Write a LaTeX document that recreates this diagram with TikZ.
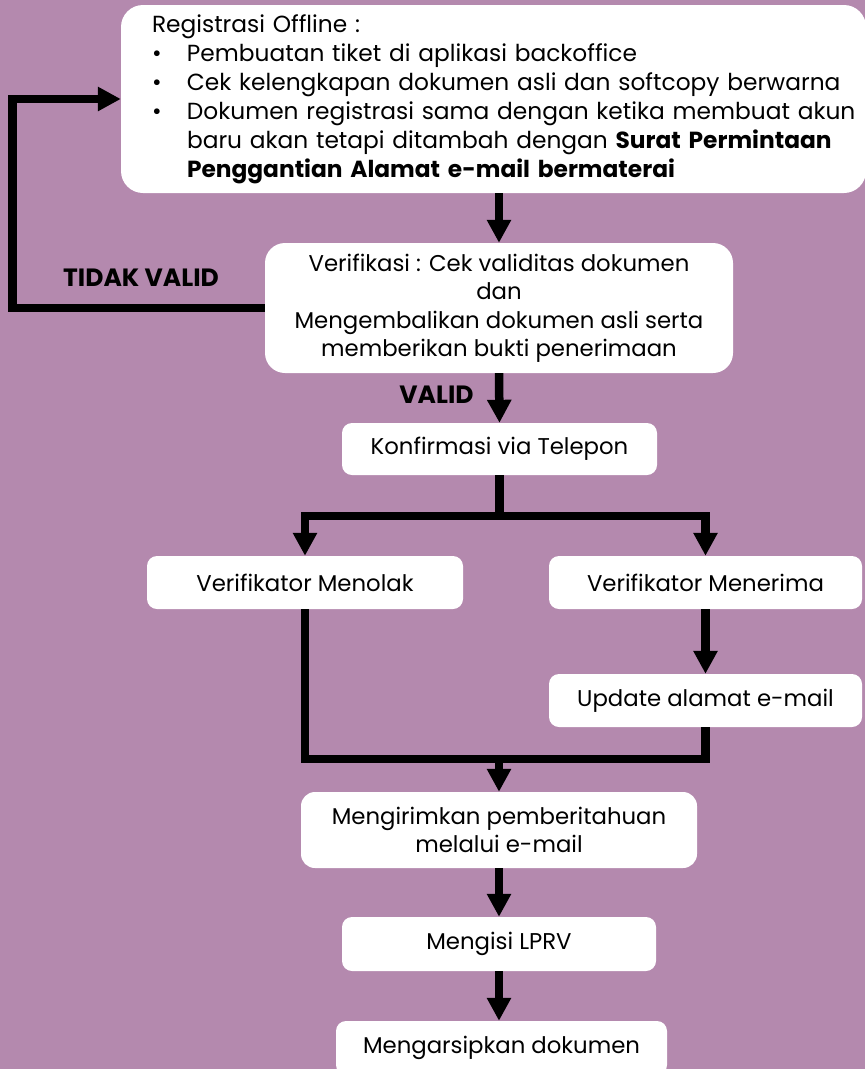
\documentclass[tikz,border=0pt]{standalone}
\usepackage{fontspec}
\setmainfont{Poppins}
\usepackage{xcolor}
\usepackage{tikz}
\usetikzlibrary{arrows.meta}

\definecolor{ungu}{RGB}{180,137,174}
\newcommand{\bul}{\makebox[35pt][l]{\textbullet}}

\begin{document}
\begin{tikzpicture}[x=1pt,y=-1pt,
    kotak/.style={fill=white, rounded corners=10pt, inner sep=0pt, align=center,
        font=\fontsize{22.8}{28.5}\selectfont},
    garis/.style={line width=8.5pt},
    panah/.style={line width=8.5pt, -{Triangle[length=23pt,width=23pt]}},
    label/.style={font=\fontsize{25}{28}\selectfont\bfseries}]
                % 背景
                \fill[ungu] (0,0) rectangle (865,1069);
                \useasboundingbox (0,0) rectangle (865,1069);

                % 方框
                \node[kotak, rounded corners=22pt, minimum width=745pt, minimum height=188pt,
                    text width=683pt, align=left, font=\fontsize{23.3}{29}\selectfont] (reg) at (493.5,99) {%
                    \mbox{Registrasi Offline :}\\
                    \mbox{\bul Pembuatan tiket di aplikasi backoffice}\\
                    \mbox{\bul Cek kelengkapan dokumen asli dan softcopy berwarna}\\
                    \mbox{\bul Dokumen registrasi sama dengan ketika membuat akun}\\
                    \mbox{\hspace*{35pt}baru akan tetapi ditambah dengan \textbf{Surat Permintaan}}\\
                    \mbox{\hspace*{35pt}\textbf{Penggantian Alamat e-mail bermaterai}}};
                \node[kotak, rounded corners=20pt, minimum width=468pt, minimum height=130pt] (verif) at (499,308)
                    {Verifikasi : Cek validitas dokumen\\ dan\\ Mengembalikan dokumen asli serta\\ memberikan bukti penerimaan};
                \node[kotak, minimum width=315pt, minimum height=52pt] (konf) at (499.5,449) {Konfirmasi via Telepon};
                \node[kotak, minimum width=316pt, minimum height=53pt] (tolak) at (305,582.5) {Verifikator Menolak};
                \node[kotak, minimum width=313pt, minimum height=53pt] (terima) at (705.5,582.5) {Verifikator Menerima};
                \node[kotak, minimum width=313pt, minimum height=53pt] (update) at (705.5,700.5) {Update alamat e-mail};
                \node[kotak, rounded corners=14pt, minimum width=396pt, minimum height=76pt] (kirim) at (499,830)
                    {Mengirimkan pemberitahuan\\ melalui e-mail};
                \node[kotak, minimum width=314pt, minimum height=54pt] (lprv) at (499,944) {Mengisi LPRV};
                \node[kotak, minimum width=331pt, minimum height=54pt] (arsip) at (501.5,1048) {Mengarsipkan dokumen};

                % 标签
                \node[label] (tidak) at (141,278) {TIDAK VALID};
                \node[label] (valid) at (436.5,395) {VALID};

                % 连线
                \draw[panah] (verif.north |- reg.south) -- (verif.north);
                \draw[panah] (verif.west) -- ++(-252.5,0) |- (reg.west);
                \draw[panah] (verif.south) -- (konf.north);
                \draw[garis] (konf.south) -- ++(0,41) coordinate (cabang);
                \draw[panah] (cabang) -| (tolak.north);
                \draw[panah] (cabang) -| (terima.north);
                \draw[panah] (terima.south) -- (update.north);
                \coordinate (gabung) at (499,759);
                \draw[garis] (tolak.south) |- (gabung) -| (update.south);
                \draw[panah] (gabung) -- (kirim.north);
                \draw[panah] (kirim.south) -- (lprv.north);
                \draw[panah] (lprv.south) -- (lprv.south |- arsip.north);
            \end{tikzpicture}
\end{document}
